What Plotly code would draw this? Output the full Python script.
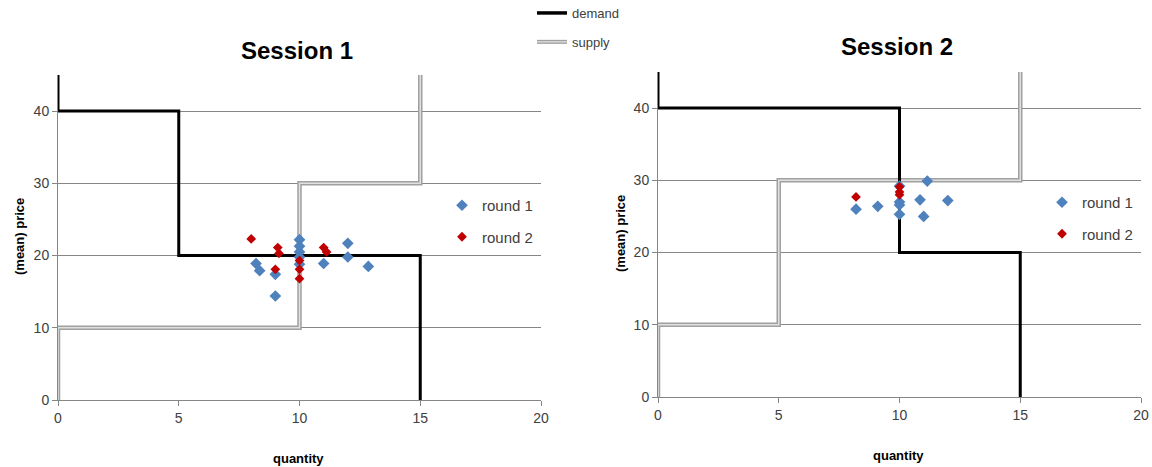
import plotly.graph_objects as go

# ---- data ----
s1_demand_q = [0, 0, 5, 5, 15, 15]
s1_demand_p = [45, 40, 40, 20, 20, 0]
s1_supply_q = [0, 0, 10, 10, 15, 15]
s1_supply_p = [0, 10, 10, 30, 30, 45]

s2_demand_q = [0, 0, 10, 10, 15, 15]
s2_demand_p = [45, 40, 40, 20, 20, 0]
s2_supply_q = [0, 0, 5, 5, 15, 15]
s2_supply_p = [0, 10, 10, 30, 30, 45]

s1_r1_q = [10, 10, 10, 10, 10, 8.2, 8.35, 9.0, 9.0, 11.0, 12.0, 12.0, 12.85]
s1_r1_p = [22.2, 21.3, 20.5, 19.8, 18.8, 18.9, 17.9, 17.4, 14.4, 18.9, 21.7, 19.8, 18.5]
s1_r2_q = [8.0, 9.1, 9.15, 9.0, 10, 10, 10, 11.0, 11.12]
s1_r2_p = [22.3, 21.1, 20.3, 18.1, 19.3, 18.1, 16.8, 21.1, 20.5]

s2_r1_q = [11.15, 10, 10, 10, 10, 8.2, 9.1, 10.85, 12.0, 11.0]
s2_r1_p = [29.9, 29.2, 27.0, 26.6, 25.3, 26.0, 26.4, 27.3, 27.2, 25.0]
s2_r2_q = [8.2, 10, 10, 10]
s2_r2_p = [27.7, 29.1, 28.4, 28.0]

x_ticks = [0, 5, 10, 15, 20]
y_ticks = [0, 10, 20, 30, 40]

BLUE = "#4F81BD"
RED = "#C00000"
GREY = "#A0A0A0"
LIGHT = "#E0E0E0"
FONT = "Liberation Sans"

fig = go.Figure()

def add_session(xa, ya, dq, dp, sq, sp, r1q, r1p, r2q, r2p, leg, first):
    fig.add_trace(go.Scatter(x=sq, y=sp, mode="lines", xaxis=xa, yaxis=ya,
                             line=dict(color=GREY, width=4.5), name="supply",
                             showlegend=False, hoverinfo="skip"))
    fig.add_trace(go.Scatter(x=sq, y=sp, mode="lines", xaxis=xa, yaxis=ya,
                             line=dict(color=LIGHT, width=1.5), name="supply",
                             showlegend=False, hoverinfo="skip"))
    fig.add_trace(go.Scatter(x=dq, y=dp, mode="lines", xaxis=xa, yaxis=ya,
                             line=dict(color="black", width=3), name="demand",
                             legend="legend", legendgroup="demand", showlegend=first))
    if first:
        fig.add_trace(go.Scatter(x=[None], y=[None], mode="lines", xaxis=xa, yaxis=ya,
                                 line=dict(color=GREY, width=4), name="supply",
                                 legend="legend", legendgroup="supply", showlegend=True))
        # inner light stroke of the double line, drawn in an overlaid twin legend
        fig.add_trace(go.Scatter(x=[None], y=[None], mode="lines", xaxis=xa, yaxis=ya,
                                 line=dict(color="black", width=3), name="demand",
                                 legend="legend4", legendgroup="demand4", showlegend=True))
        fig.add_trace(go.Scatter(x=[None], y=[None], mode="lines", xaxis=xa, yaxis=ya,
                                 line=dict(color=LIGHT, width=1.3), name="supply",
                                 legend="legend4", legendgroup="supply4", showlegend=True))
    fig.add_trace(go.Scatter(x=r1q, y=r1p, mode="markers", xaxis=xa, yaxis=ya,
                             marker=dict(symbol="diamond", color=BLUE, size=9),
                             name="round 1", legend=leg, legendgroup=leg + "r1"))
    fig.add_trace(go.Scatter(x=r2q, y=r2p, mode="markers", xaxis=xa, yaxis=ya,
                             marker=dict(symbol="diamond", color=RED, size=7.5),
                             name="round 2", legend=leg, legendgroup=leg + "r2"))

add_session("x", "y", s1_demand_q, s1_demand_p, s1_supply_q, s1_supply_p,
            s1_r1_q, s1_r1_p, s1_r2_q, s1_r2_p, "legend2", True)
add_session("x2", "y2", s2_demand_q, s2_demand_p, s2_supply_q, s2_supply_p,
            s2_r1_q, s2_r1_p, s2_r2_q, s2_r2_p, "legend3", False)

W, H = 1152, 467

def xdom(a, b):
    return [a / W, b / W]

def ydom(top, bottom):
    return [(H - bottom) / H, (H - top) / H]

axis_common = dict(showline=True, linecolor="#868686", linewidth=1,
                   ticks="outside", ticklen=5, tickcolor="#868686",
                   tickfont=dict(family=FONT, size=14, color="#404040"),
                   zeroline=False, automargin=False)

top_legend = dict(x=532 / W, y=1 + 2 / H, xanchor="left", yanchor="top",
                  bgcolor="rgba(0,0,0,0)", tracegroupgap=9, itemwidth=30)

def ann(text, x, y, size, angle=0):
    return dict(text=text, x=x / W, y=1 - y / H, xref="paper", yref="paper",
                xanchor="center", yanchor="middle", showarrow=False, textangle=angle,
                font=dict(family=FONT, size=size, color="black"))

fig.update_layout(
    width=W, height=H,
    margin=dict(l=0, r=0, t=0, b=0, autoexpand=False),
    paper_bgcolor="white", plot_bgcolor="white",
    font=dict(family=FONT, color="#404040"),
    xaxis=dict(domain=xdom(58, 541), range=[0, 20], tickvals=x_ticks, showgrid=False,
               anchor="y", **axis_common),
    yaxis=dict(domain=ydom(75, 400), range=[0, 45], tickvals=y_ticks, showgrid=True,
               gridcolor="#868686", gridwidth=1, anchor="x", **axis_common),
    xaxis2=dict(domain=xdom(658, 1141), range=[0, 20], tickvals=x_ticks, showgrid=False,
                anchor="y2", **axis_common),
    yaxis2=dict(domain=ydom(72, 397), range=[0, 45], tickvals=y_ticks, showgrid=True,
                gridcolor="#868686", gridwidth=1, anchor="x2", **axis_common),
    legend=dict(font=dict(family=FONT, size=13, color="#404040"), **top_legend),
    legend4=dict(font=dict(family=FONT, size=13, color="rgba(0,0,0,0)"), **top_legend),
    legend2=dict(x=442 / W, y=1 - 189 / H, xanchor="left", yanchor="top",
                 bgcolor="rgba(0,0,0,0)", font=dict(family=FONT, size=15, color="#404040"),
                 tracegroupgap=9, itemwidth=30),
    legend3=dict(x=1042 / W, y=1 - 186 / H, xanchor="left", yanchor="top",
                 bgcolor="rgba(0,0,0,0)", font=dict(family=FONT, size=15, color="#404040"),
                 tracegroupgap=9, itemwidth=30),
    showlegend=True,
    annotations=[
        ann("<b>Session 1</b>", 297, 50, 24),
        ann("<b>Session 2</b>", 897, 47, 24),
        ann("<b>quantity</b>", 298, 458, 13),
        ann("<b>quantity</b>", 898, 455, 13),
        ann("<b>(mean) price</b>", 20, 237, 13, -90),
        ann("<b>(mean) price</b>", 620, 234, 13, -90),
    ],
)

fig.write_html("out.html", config={"displayModeBar": False},
               post_script="document.body.style.margin='0';document.body.style.overflow='hidden';")
